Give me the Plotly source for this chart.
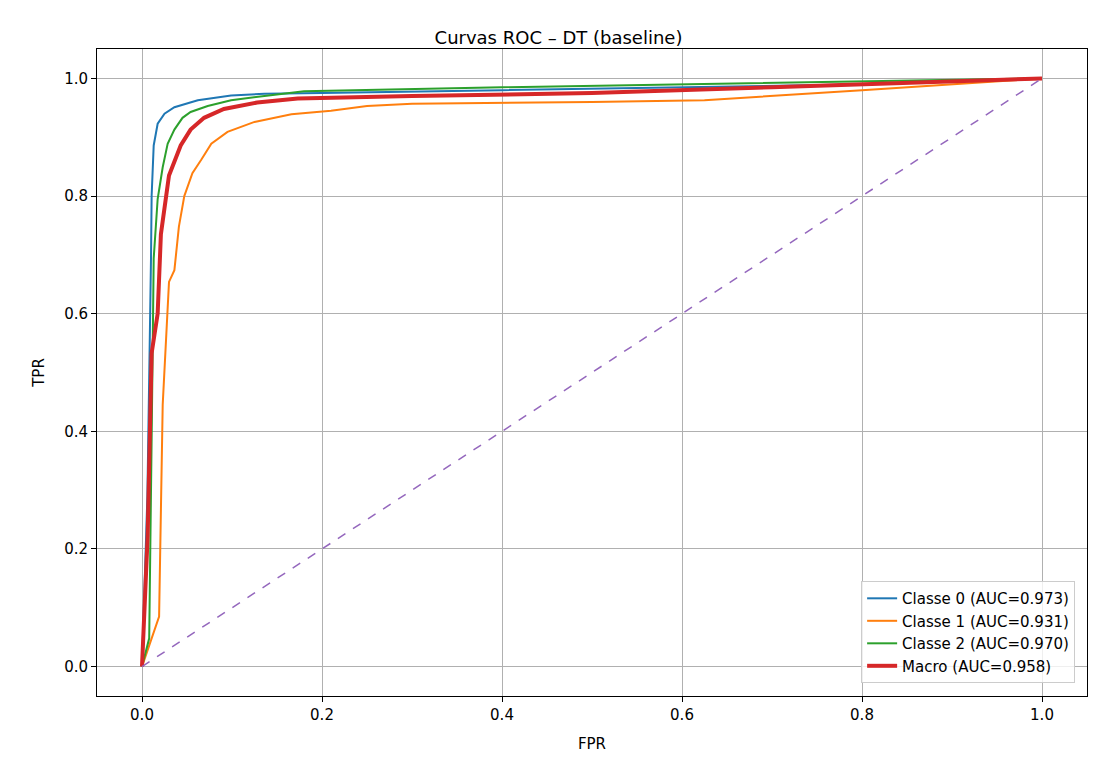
import plotly.graph_objects as go

c0_fpr = [0, 0.006, 0.01, 0.0107, 0.013, 0.0174, 0.025, 0.036, 0.062, 0.099, 0.136, 0.2, 0.4, 0.6, 0.8, 1.0]
c0_tpr = [0, 0.29, 0.694, 0.80, 0.886, 0.923, 0.94, 0.951, 0.963, 0.971, 0.974, 0.975, 0.98, 0.985, 0.99, 1.0]
c1_fpr = [0, 0.019, 0.023, 0.027, 0.030, 0.036, 0.041, 0.047, 0.056, 0.066, 0.077, 0.095, 0.125, 0.166, 0.21, 0.25, 0.3, 0.5, 0.625, 0.8, 1.0]
c1_tpr = [0, 0.085, 0.445, 0.56, 0.654, 0.674, 0.748, 0.80, 0.839, 0.862, 0.889, 0.909, 0.926, 0.939, 0.945, 0.953, 0.957, 0.96, 0.963, 0.98, 1.0]
c2_fpr = [0, 0.008, 0.011, 0.013, 0.0174, 0.023, 0.0285, 0.036, 0.045, 0.054, 0.073, 0.099, 0.136, 0.18, 0.4, 0.6, 0.8, 1.0]
c2_tpr = [0, 0.048, 0.425, 0.694, 0.795, 0.849, 0.889, 0.913, 0.933, 0.943, 0.953, 0.963, 0.97, 0.978, 0.985, 0.99, 0.995, 1.0]
mac_fpr = [0, 0.0063, 0.0107, 0.0174, 0.021, 0.030, 0.043, 0.054, 0.069, 0.091, 0.128, 0.173, 0.3, 0.5, 0.7, 0.9, 1.0]
mac_tpr = [0, 0.223, 0.533, 0.60, 0.735, 0.835, 0.886, 0.913, 0.933, 0.948, 0.959, 0.966, 0.97, 0.975, 0.985, 0.995, 1.0]
diag = [0, 1]
names = ["Classe 0 (AUC=0.973)", "Classe 1 (AUC=0.931)", "Classe 2 (AUC=0.970)", "Macro (AUC=0.958)"]

fig = go.Figure()
fig.add_trace(go.Scatter(x=c0_fpr, y=c0_tpr, mode="lines", name=names[0], line=dict(color="#1f77b4", width=2)))
fig.add_trace(go.Scatter(x=c1_fpr, y=c1_tpr, mode="lines", name=names[1], line=dict(color="#ff7f0e", width=2)))
fig.add_trace(go.Scatter(x=c2_fpr, y=c2_tpr, mode="lines", name=names[2], line=dict(color="#2ca02c", width=2)))
fig.add_trace(go.Scatter(x=mac_fpr, y=mac_tpr, mode="lines", name=names[3], line=dict(color="#d62728", width=4)))
fig.add_trace(go.Scatter(x=diag, y=diag, mode="lines", showlegend=False, line=dict(color="#9467bd", width=1.5, dash="dash")))

def ax(title):
    return dict(range=[-0.05, 1.05], showgrid=True, gridcolor="#b0b0b0", gridwidth=1, zeroline=False,
                showline=True, linecolor="black", linewidth=1, mirror=True, ticks="outside", ticklen=5,
                tickcolor="black", tickformat=".1f", dtick=0.2, tickfont=dict(size=15, color="black"),
                title=dict(text=title, font=dict(size=15)))

fig.update_layout(
    width=1101, height=776, plot_bgcolor="white", paper_bgcolor="white",
    font=dict(family="DejaVu Sans", color="black"),
    margin=dict(l=89, r=22, t=41, b=88),
    title=dict(text="Curvas ROC – DT (baseline)", x=0.5, xanchor="center", y=0.97, font=dict(size=18)),
    xaxis=ax("FPR"),
    yaxis=ax("TPR"),
    legend=dict(x=0.988, y=0.02, xanchor="right", yanchor="bottom", bordercolor="#cccccc", borderwidth=1,
                bgcolor="rgba(255,255,255,0.8)", font=dict(size=15)),
    showlegend=True,
)
fig.write_html("out.html")
